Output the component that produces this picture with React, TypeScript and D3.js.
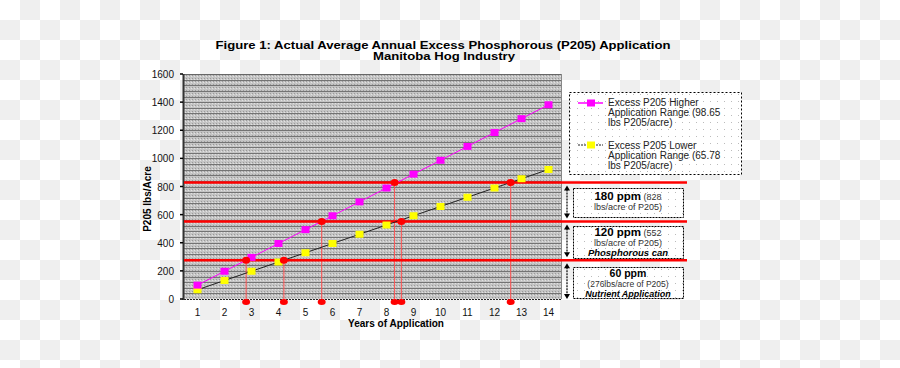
import React from 'react'
import * as d3 from 'd3'

const years = [1, 2, 3, 4, 5, 6, 7, 8, 9, 10, 11, 12, 13, 14]
const higherValues = [98.65, 197.3, 295.95, 394.6, 493.25, 591.9, 690.55, 789.2, 887.85, 986.5, 1085.15, 1183.8, 1282.45, 1381.1]
const lowerValues = [65.78, 131.56, 197.34, 263.12, 328.9, 394.68, 460.46, 526.24, 592.02, 657.8, 723.58, 789.36, 855.14, 920.92]
const yTicks = [0, 200, 400, 600, 800, 1000, 1200, 1400, 1600]
const thresholds = [276, 552, 828]
// years where each series crosses the 276 / 552 / 828 lines
const higherCross = [2.8, 5.6, 8.3]
const lowerCross = [4.2, 8.55, 12.6]

const higherLegend = ['Excess P205 Higher', 'Application Range (98.65', 'lbs P205/acre)']
const lowerLegend = ['Excess P205 Lower', 'Application Range (65.78', 'lbs P205/acre)']

const FONT = "Arial, 'Liberation Sans', sans-serif"

const W = 900
const H = 368
const plot = { left: 184, right: 562, top: 74, bottom: 299 }

export default function App() {
  const x = d3.scaleLinear().domain([0.5, 14.5]).range([plot.left, plot.right])
  const y = d3.scaleLinear().domain([0, 1600]).range([plot.bottom, plot.top])
  const gridValues = d3.range(40, 1600, 40)

  const line = (vals: number[]) =>
    d3.line<number>().x((_, i) => x(years[i])).y(d => y(d))(vals) || ''

  const crossings = [
    ...higherCross.map((yr, i) => ({ yr, v: thresholds[i] })),
    ...lowerCross.map((yr, i) => ({ yr, v: thresholds[i] }))
  ]

  // ppm boxes beside the threshold bands
  const boxes = [
    { top: 188, bottom: 217 },
    { top: 226, bottom: 258 },
    { top: 267, bottom: 298 }
  ]
  const arrowX = 567
  const bands = [
    [y(828) + 3, y(552) - 3],
    [y(552) + 3, y(276) - 3],
    [y(276) + 3, plot.bottom]
  ]

  return (
    <svg width={W} height={H} style={{ position: 'absolute', left: 0, top: 0, fontFamily: FONT }}>
      <defs>
        <pattern id="checker" width={40} height={40} patternUnits="userSpaceOnUse">
          <rect width={40} height={40} fill="#ffffff" />
          <rect x={20} y={0} width={20} height={20} fill="#efefef" />
          <rect x={0} y={20} width={20} height={20} fill="#efefef" />
        </pattern>
        <pattern id="plotdots" width={3} height={3} patternUnits="userSpaceOnUse">
          <rect width={3} height={3} fill="#c4c4c4" />
          <rect x={0} y={0} width={1} height={1} fill="#999" />
          <rect x={2} y={1} width={1} height={1} fill="#e2e2e2" />
        </pattern>
        <pattern id="boxdots" width={7} height={7} patternUnits="userSpaceOnUse">
          <rect width={7} height={7} fill="#ffffff" />
          <rect x={3} y={3} width={1} height={1} fill="#bbbbbb" />
        </pattern>
      </defs>

      <rect width={W} height={H} fill="url(#checker)" />

      {/* title */}
      <text x={443} y={48.5} textAnchor="middle" fontSize={11} fontWeight="bold" fill="#000" textLength={455} lengthAdjust="spacingAndGlyphs">
        Figure 1: Actual Average Annual Excess Phosphorous (P205) Application
      </text>
      <text x={444} y={60} textAnchor="middle" fontSize={11} fontWeight="bold" fill="#000" textLength={142} lengthAdjust="spacingAndGlyphs">
        Manitoba Hog Industry
      </text>

      {/* plot area */}
      <rect x={plot.left} y={plot.top} width={plot.right - plot.left} height={plot.bottom - plot.top} fill="url(#plotdots)" />
      {gridValues.map(v => (
        <line key={v} x1={plot.left} x2={plot.right} y1={Math.round(y(v)) + 0.5} y2={Math.round(y(v)) + 0.5} stroke="#737373" strokeWidth={1} />
      ))}
      <line x1={plot.left} x2={plot.right} y1={plot.top + 0.5} y2={plot.top + 0.5} stroke="#666" />
      <line x1={plot.right - 0.5} x2={plot.right - 0.5} y1={plot.top} y2={plot.bottom} stroke="#888" />
      <line x1={plot.left} x2={plot.right} y1={plot.bottom + 0.5} y2={plot.bottom + 0.5} stroke="#222" strokeDasharray="2,1" />
      <line x1={plot.left - 0.5} x2={plot.left - 0.5} y1={plot.top} y2={plot.bottom + 1} stroke="#333" strokeWidth={2} />

      {/* y axis */}
      {yTicks.map(t => (
        <g key={t}>
          <line x1={plot.left - 4} x2={plot.left - 1} y1={y(t)} y2={y(t)} stroke="#000" strokeWidth={1.5} />
          <text x={174} y={y(t) + 4} textAnchor="end" fontSize={10} fill="#111">{t}</text>
        </g>
      ))}
      <text transform={`translate(151,${199}) rotate(-90)`} textAnchor="middle" fontSize={10} fontWeight="bold" fill="#000">
        P205 lbs/Acre
      </text>

      {/* x axis */}
      {years.map(yr => (
        <text key={yr} x={x(yr)} y={316} textAnchor="middle" fontSize={10} fill="#111">{yr}</text>
      ))}
      <text x={396} y={327} textAnchor="middle" fontSize={10} fontWeight="bold" fill="#000">Years of Application</text>

      {/* crossing verticals */}
      {crossings.map((c, i) => (
        <line key={i} x1={x(c.yr)} x2={x(c.yr)} y1={y(c.v)} y2={plot.bottom + 3} stroke="#ff5050" strokeWidth={1} />
      ))}

      {/* threshold lines */}
      {thresholds.map(t => (
        <line key={t} x1={plot.left} x2={687} y1={y(t)} y2={y(t)} stroke="#ff0000" strokeWidth={2.5} />
      ))}

      {/* series */}
      <path d={line(lowerValues)} fill="none" stroke="#222" strokeWidth={1} />
      <path d={line(higherValues)} fill="none" stroke="#ff00ff" strokeWidth={1} />
      {lowerValues.map((v, i) => (
        <rect key={i} x={x(years[i]) - 4} y={y(v) - 3.5} width={8} height={7} fill="#ffff00" />
      ))}
      {higherValues.map((v, i) => (
        <rect key={i} x={x(years[i]) - 4} y={y(v) - 3.5} width={8} height={7} fill="#ff00ff" />
      ))}

      {/* crossing dots */}
      {crossings.map((c, i) => (
        <g key={i}>
          <ellipse cx={x(c.yr)} cy={y(c.v)} rx={4} ry={3.5} fill="#ff0000" />
          <ellipse cx={x(c.yr)} cy={plot.bottom + 3} rx={4} ry={3} fill="#ff0000" />
        </g>
      ))}

      {/* legend */}
      <rect x={569.5} y={92.5} width={172} height={82} fill="url(#boxdots)" stroke="#000" strokeDasharray="2,2" />
      <line x1={578} x2={603} y1={103} y2={103} stroke="#ff00ff" strokeWidth={1.5} />
      <rect x={587} y={99.5} width={8} height={7} fill="#ff00ff" />
      {higherLegend.map((s, i) => (
        <text key={s} x={608} y={106 + i * 10} fontSize={10} fill="#222">{s}</text>
      ))}
      <line x1={578} x2={603} y1={145} y2={145} stroke="#222" strokeWidth={1} strokeDasharray="2,1" />
      <rect x={587} y={141.5} width={8} height={7} fill="#ffff00" />
      {lowerLegend.map((s, i) => (
        <text key={s} x={608} y={149 + i * 10} fontSize={10} fill="#222">{s}</text>
      ))}

      {/* band arrows */}
      {bands.map(([a, b], i) => (
        <g key={i}>
          <line x1={arrowX} x2={arrowX} y1={a + 4} y2={b - 4} stroke="#000" strokeWidth={1.2} strokeDasharray="2,1" />
          <path d={`M${arrowX - 3},${a + 5} L${arrowX + 3},${a + 5} L${arrowX},${a} Z`} fill="#000" />
          <path d={`M${arrowX - 3},${b - 5} L${arrowX + 3},${b - 5} L${arrowX},${b} Z`} fill="#000" />
        </g>
      ))}

      {/* ppm boxes */}
      {boxes.map((b, i) => (
        <rect key={i} x={573.5} y={b.top + 0.5} width={110} height={b.bottom - b.top} fill="url(#boxdots)" stroke="#000" strokeDasharray="2,1" />
      ))}
      <text x={628} y={200} textAnchor="middle" fill="#000">
        <tspan fontSize={11.5} fontWeight="bold">180 ppm</tspan>
        <tspan fontSize={9} fill="#333"> (828</tspan>
      </text>
      <text x={628} y={210} textAnchor="middle" fontSize={9} fill="#333">lbs/acre of P205)</text>

      <text x={628} y={236} textAnchor="middle" fill="#000">
        <tspan fontSize={11.5} fontWeight="bold">120 ppm</tspan>
        <tspan fontSize={9} fill="#333"> (552</tspan>
      </text>
      <text x={628} y={245.5} textAnchor="middle" fontSize={9} fill="#333">lbs/acre of P205)</text>
      <text x={628} y={255.5} textAnchor="middle" fontSize={9.5} fontWeight="bold" fontStyle="italic" fill="#000">Phosphorous can</text>

      <text x={628} y={276.5} textAnchor="middle" fontSize={10.5} fontWeight="bold" fill="#000">60 ppm</text>
      <text x={628} y={287} textAnchor="middle" fontSize={8.5} fill="#333">(276lbs/acre of P205)</text>
      <text x={628} y={297.2} textAnchor="middle" fontSize={9} fontWeight="bold" fontStyle="italic" fill="#000">Nutrient Application</text>
    </svg>
  )
}
